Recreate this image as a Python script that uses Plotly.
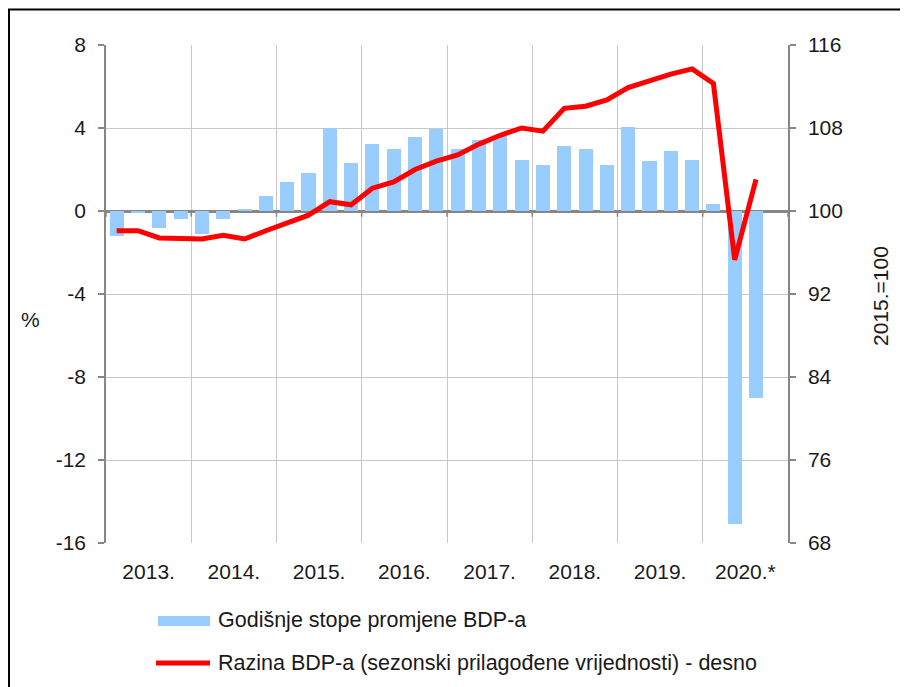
import plotly.graph_objects as go

quarters = [f"{y}Q{q}" for y in range(2013, 2021) for q in range(1, 5)][:31]
year_labels = ["2013.", "2014.", "2015.", "2016.", "2017.", "2018.", "2019.", "2020.*"]
growth = [-1.2, -0.05, -0.8, -0.4, -1.1, -0.4, 0.1, 0.7,
          1.4, 1.85, 4.0, 2.3, 3.25, 3.0, 3.55, 3.95,
          3.0, 3.4, 3.6, 2.45, 2.2, 3.15, 3.0, 2.2,
          4.05, 2.4, 2.9, 2.45, 0.35, -15.1, -9.0]
level = [98.1, 98.1, 97.4, 97.3, 97.3, 97.65, 97.3, 98.1,
         98.9, 99.6, 100.9, 100.6, 102.2, 102.8, 104.0, 104.8,
         105.4, 106.45, 107.3, 108.0, 107.7, 109.9, 110.1, 110.7,
         111.9, 112.6, 113.2, 113.7, 112.3, 95.3, 103.05]
left_ticks = [8, 4, 0, -4, -8, -12, -16]
right_ticks = [116, 108, 100, 92, 84, 76, 68]
legend_names = ["Godišnje stope promjene BDP-a",
                "Razina BDP-a (sezonski prilagođene vrijednosti) - desno"]

BAR = "#99CCFF"
RED = "#FF0000"
AX = "#868686"
GRID = "#C8C8C8"
TXT = "#1a1a1a"
FONT = "Liberation Sans, Arial, sans-serif"
FS = 21

xs = list(range(len(quarters)))
n_slots = 4 * len(year_labels)
year_centers = [4 * i + 1.5 for i in range(len(year_labels))]
year_bounds = [4 * i - 0.5 for i in range(len(year_labels) + 1)]

fig = go.Figure()
fig.add_trace(go.Bar(x=xs, y=growth, name=legend_names[0], marker_color=BAR,
                     marker_line_width=0, width=0.66, yaxis="y"))
fig.add_trace(go.Scatter(x=xs, y=level, name=legend_names[1], mode="lines",
                         line=dict(color=RED, width=5), yaxis="y2"))

shapes = []
# outer frame (top & left visible)
shapes.append(dict(type="rect", xref="paper", yref="paper", x0=-0.1422, x1=1.186,
                   y0=-0.315, y1=1.0713, line=dict(color="#000000", width=2),
                   fillcolor="rgba(0,0,0,0)", layer="below"))
# tick marks on the category axis at zero
for b in year_bounds:
    shapes.append(dict(type="line", xref="x", yref="y", x0=b, x1=b, y0=0, y1=-0.28,
                       line=dict(color=AX, width=1.5)))
# legend swatches
shapes.append(dict(type="rect", xref="paper", yref="paper", x0=0.0762, x1=0.1525,
                   y0=-0.1667, y1=-0.1466, fillcolor=BAR, line=dict(width=0)))
shapes.append(dict(type="line", xref="paper", yref="paper", x0=0.0733, x1=0.1525,
                   y0=-0.241, y1=-0.241, line=dict(color=RED, width=5)))

annotations = [
    dict(text=legend_names[0], xref="paper", yref="paper", x=0.1613, y=-0.1546,
         xanchor="left", yanchor="middle", showarrow=False,
         font=dict(family=FONT, size=21.5, color=TXT)),
    dict(text=legend_names[1], xref="paper", yref="paper", x=0.1613, y=-0.241,
         xanchor="left", yanchor="middle", showarrow=False,
         font=dict(family=FONT, size=21.5, color=TXT)),
    dict(text="%", xref="paper", yref="paper", x=-0.1114, y=0.4478,
         xanchor="center", yanchor="middle", showarrow=False,
         font=dict(family=FONT, size=FS, color=TXT)),
    dict(text="2015.=100", xref="paper", yref="paper", x=1.1364, y=0.496,
         xanchor="center", yanchor="middle", showarrow=False, textangle=-90,
         font=dict(family=FONT, size=FS, color=TXT)),
]

fig.update_layout(
    width=900, height=679,
    margin=dict(l=98, r=120, t=37, b=144),
    paper_bgcolor="white", plot_bgcolor="white",
    showlegend=False,
    bargap=0,
    font=dict(family=FONT, size=FS, color=TXT),
    xaxis=dict(range=[-0.5, n_slots - 0.5], tickmode="array",
               tickvals=year_centers, ticktext=year_labels,
               showgrid=False, ticks="", zeroline=False, showline=False,
               ticklabelstandoff=14,
               minor=dict(tick0=-0.5, dtick=4, showgrid=True, gridcolor=GRID,
                          gridwidth=1, ticks="")),
    yaxis=dict(range=[-16, 8], tickmode="array", tickvals=left_ticks,
               ticktext=[str(v) for v in left_ticks],
               showgrid=True, gridcolor=GRID,
               gridwidth=1, zeroline=True, zerolinecolor=AX, zerolinewidth=2.5,
               showline=True, linecolor=AX, linewidth=1.5, ticks="outside",
               ticklen=6, tickcolor=AX, tickwidth=1.5, ticklabelstandoff=8),
    yaxis2=dict(range=[68, 116], tickmode="array", tickvals=right_ticks,
                ticktext=[str(v) for v in right_ticks],
                overlaying="y", side="right",
                showgrid=False, zeroline=False, showline=True, linecolor=AX,
                linewidth=1.5, ticks="outside", ticklen=6, tickcolor=AX,
                tickwidth=1.5, ticklabelstandoff=8),
    shapes=shapes,
    annotations=annotations,
)

fig.write_html("out.html")
